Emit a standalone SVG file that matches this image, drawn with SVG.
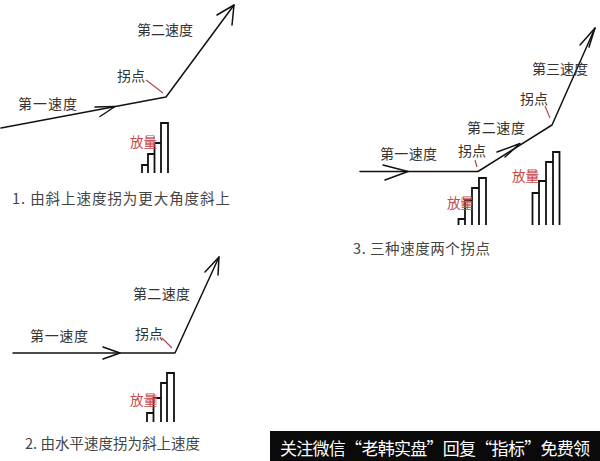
<svg xmlns="http://www.w3.org/2000/svg" width="600" height="461" viewBox="0 0 600 461">
<style>
  .ln{fill:none;stroke:#111;stroke-width:1.5;stroke-linecap:round;stroke-linejoin:round}
  .bar{fill:none;stroke:#111;stroke-width:1.8}
  .red{fill:none;stroke:#b54a4a;stroke-width:1.2}
  .lbl{font-family:"Noto Sans CJK SC","Noto Sans",sans-serif;font-size:14px;fill:#333}
  .cap{font-family:"Noto Sans CJK SC","Noto Sans",sans-serif;font-size:14.5px;fill:#444}
  .vol{font-family:"Noto Sans CJK SC","Noto Sans",sans-serif;font-size:13.5px;fill:#c44a4a}
  .hl{fill:#e06a6a;opacity:0.4}
  .foot{font-family:"Noto Sans CJK SC","Noto Sans",sans-serif;font-size:17px;fill:#fff}
</style>
<rect width="600" height="461" fill="#fff"/>

<g id="connectors">
  <!-- panel 1 -->
  <polyline class="ln" points="1,128 166,97 234,5"/>
  <polyline class="ln" points="217,15 234,5 232,25"/>
  <polyline class="ln" points="95,107 115,106.5 100,116.5"/>
  <line class="red" x1="146" y1="80" x2="163" y2="93"/>
  <!-- panel 2 -->
  <polyline class="ln" points="13,353 175,353 219,257"/>
  <polyline class="ln" points="205,272 219,257 218,275"/>
  <polyline class="ln" points="103,347 120,353 103,359"/>
  <line class="red" x1="162" y1="338" x2="172" y2="348"/>
  <!-- panel 3 -->
  <polyline class="ln" points="360,171.5 478,171.5 552,125 595,28"/>
  <polyline class="ln" points="580,45 595,28 589,47"/>
  <polyline class="ln" points="383,165 408,171.5 385,180"/>
  <polyline class="ln" points="497,152 520,143.5 505,157"/>
  <line class="red" x1="475" y1="160" x2="477" y2="167"/>
  <line class="red" x1="545" y1="106" x2="550" y2="118"/>
</g>

<g id="panel1">
  <text class="lbl" x="137" y="35">第二速度</text>
  <text class="lbl" x="117" y="81">拐点</text>
  <text class="lbl" x="18" y="109" textLength="59">第一速度</text>
  <g id="bars1">
    <path class="bar" d="M142,173V165H148V173M148,165V154H154.5V173M154.5,154V143H161V173M161,143V123H168V173"/>
  </g>
  <rect class="hl" x="145" y="137" width="10" height="10"/>
  <text class="vol" x="130" y="147">放量</text>
  <text class="cap" x="12" y="204" textLength="218">1. 由斜上速度拐为更大角度斜上</text>
</g>

<g id="panel2">
  <text class="lbl" x="133" y="299" textLength="57">第二速度</text>
  <text class="lbl" x="30" y="341" textLength="58">第一速度</text>
  <text class="lbl" x="135" y="339">拐点</text>
  <g id="bars2">
    <path class="bar" d="M147,422V413H153.5V422M153.5,413V398H161V422M161,398V383H167V422M167,383V373H174V422"/>
  </g>
  <rect class="hl" x="147" y="394" width="10" height="11"/>
  <text class="vol" x="130" y="405">放量</text>
  <text class="cap" x="25" y="449" textLength="175">2. 由水平速度拐为斜上速度</text>
</g>

<g id="panel3">
  <text class="lbl" x="380" y="159" textLength="57">第一速度</text>
  <text class="lbl" x="458" y="156">拐点</text>
  <text class="lbl" x="467" y="133" textLength="58">第二速度</text>
  <text class="lbl" x="520" y="104">拐点</text>
  <text class="lbl" x="532" y="74" textLength="56">第三速度</text>
  <g id="bars3a">
    <path class="bar" d="M458.5,225V219H465V225M465,219V200H472V225M472,200V188H479V225M479,188V178H486V225"/>
  </g>
  <rect class="hl" x="461" y="197" width="9" height="11"/>
  <text class="vol" x="447" y="208">放量</text>
  <g id="bars3b">
    <path class="bar" d="M532.5,225V193H539V225M539,193V181H546V225M546,181V162H553V225M553,162V152H559.5V225"/>
  </g>
  <rect class="hl" x="527" y="170" width="11" height="11"/>
  <text class="vol" x="512" y="181">放量</text>
  <text class="cap" x="353" y="254" textLength="137">3. 三种速度两个拐点</text>
</g>

<g id="footer">
  <rect x="270" y="431" width="330" height="30" fill="#0a0a0a"/>
  <text class="foot" x="280" y="455" textLength="310">关注微信“老韩实盘”回复“指标”免费领</text>
</g>
</svg>
